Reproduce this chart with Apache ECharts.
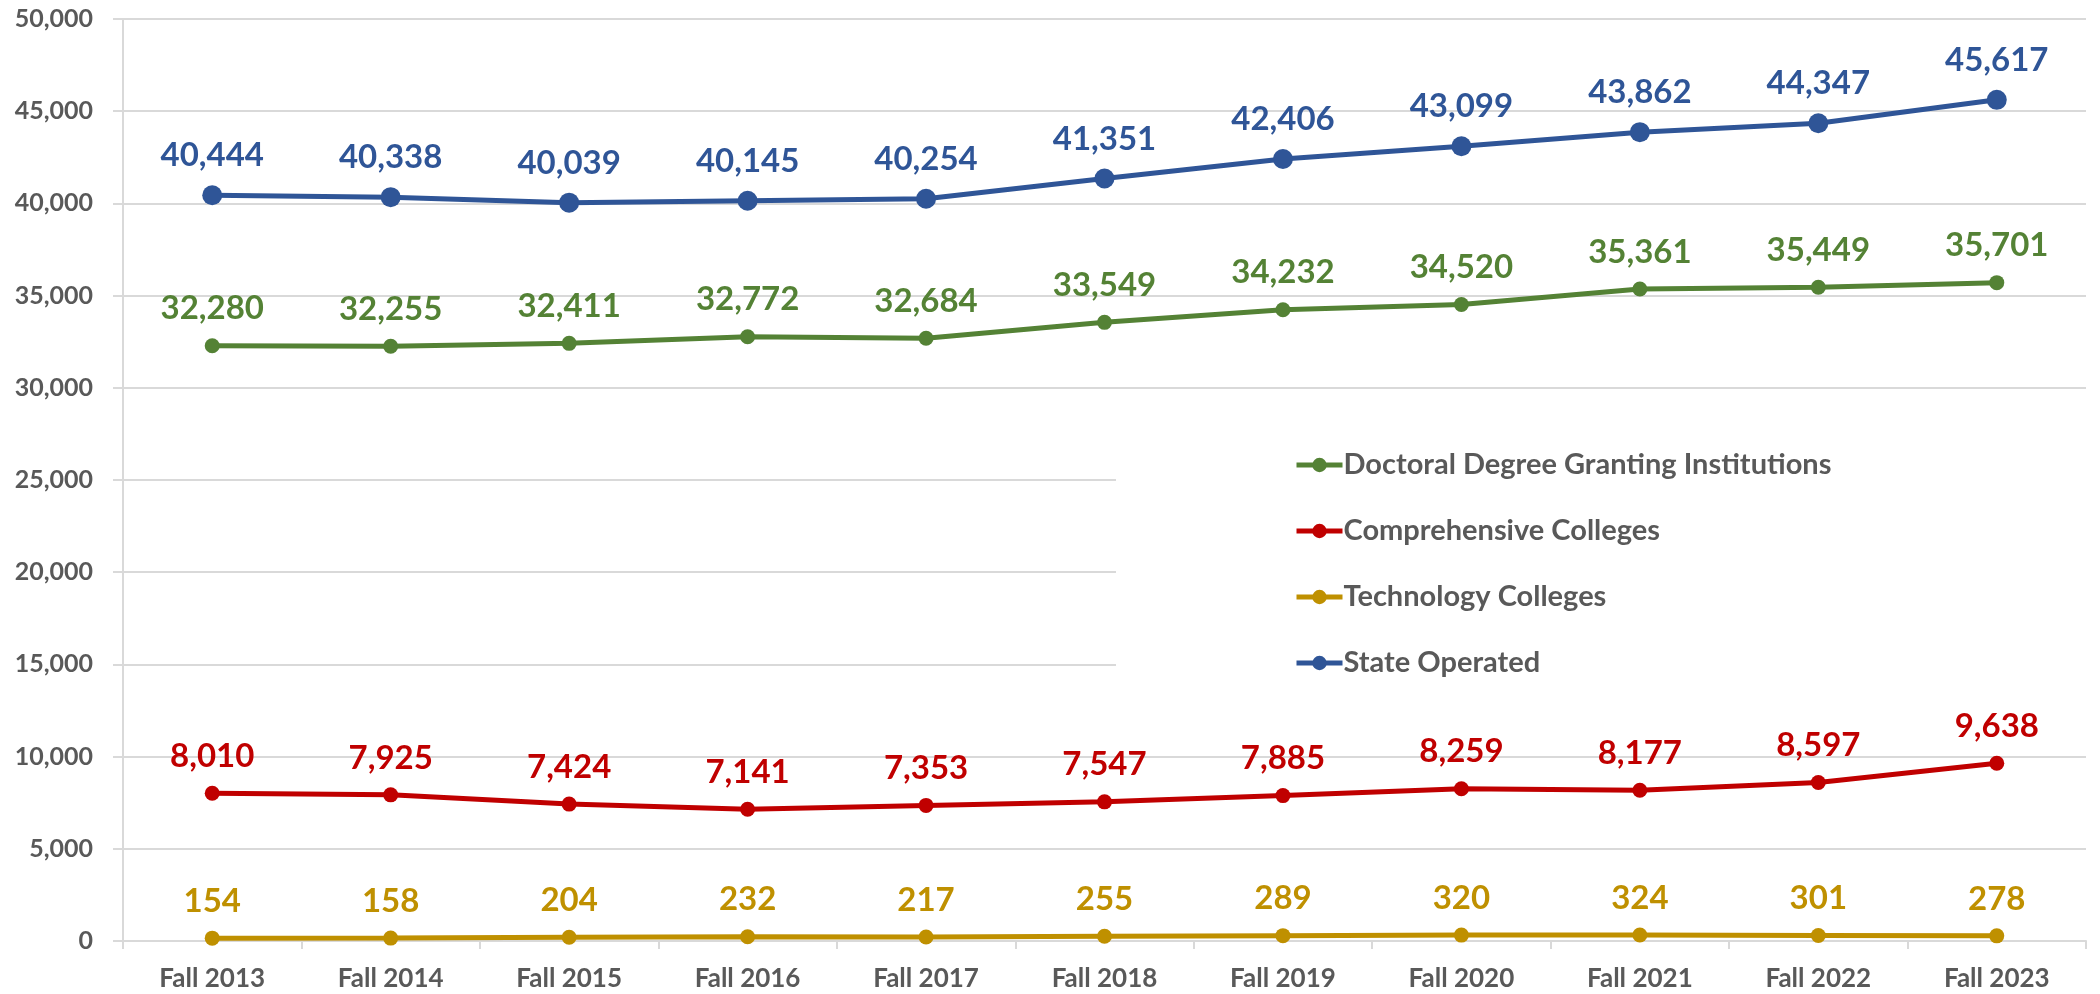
<!DOCTYPE html>
<html>
<head>
<meta charset="utf-8">
<script src="https://cdn.jsdelivr.net/npm/echarts@6/dist/echarts.min.js"></script>
<style>
  html, body { margin: 0; padding: 0; background: #fff; }
  #main { width: 2100px; height: 994px; }
</style>
</head>
<body>
<div id="main"></div>
<script>
// enrollment by sector, Fall 2013 - Fall 2023
var years = ['Fall 2013', 'Fall 2014', 'Fall 2015', 'Fall 2016', 'Fall 2017', 'Fall 2018',
    'Fall 2019', 'Fall 2020', 'Fall 2021', 'Fall 2022', 'Fall 2023'];
var doctoral = [32280, 32255, 32411, 32772, 32684, 33549, 34232, 34520, 35361, 35449, 35701];
var comprehensive = [8010, 7925, 7424, 7141, 7353, 7547, 7885, 8259, 8177, 8597, 9638];
var technology = [154, 158, 204, 232, 217, 255, 289, 320, 324, 301, 278];
var stateOperated = [40444, 40338, 40039, 40145, 40254, 41351, 42406, 43099, 43862, 44347, 45617];

var fontName = 'Lato, "Open Sans", sans-serif';

function makeSeries(name, data, color, width, size) {
    return {
        name: name,
        type: 'line',
        data: data,
        symbol: 'circle',
        symbolSize: size,
        color: color,
        lineStyle: { color: color, width: width },
        itemStyle: { color: color },
        label: {
            show: true,
            position: 'top',
            distance: 13,
            color: color,
            fontFamily: fontName,
            fontWeight: 'bold',
            fontSize: 33,
            formatter: function (p) {
                return p.value.toLocaleString('en-US');
            }
        },
        emphasis: { disabled: true },
        animation: false
    };
}

var chart = echarts.init(document.getElementById('main'));
var option = {
    backgroundColor: '#fff',
    grid: { left: 123, right: 14, top: 19, bottom: 53 },
    legend: {
        orient: 'vertical',
        left: 1116,
        top: 432,
        backgroundColor: '#fff',
        padding: [18, 268, 18, 178],
        itemWidth: 46,
        itemHeight: 18,
        itemGap: 36,
        data: ['Doctoral Degree Granting Institutions', 'Comprehensive Colleges',
            'Technology Colleges', 'State Operated'],
        lineStyle: { width: 5 },
        textStyle: {
            color: '#595959',
            fontFamily: fontName,
            fontWeight: 'bold',
            fontSize: 29,
            lineHeight: 30,
            padding: [0, 0, 0, -4]
        }
    },
    xAxis: {
        type: 'category',
        data: years,
        boundaryGap: true,
        axisLine: { lineStyle: { color: '#d9d9d9', width: 2 } },
        axisTick: { show: true, length: 8, lineStyle: { color: '#d9d9d9', width: 2 } },
        axisLabel: {
            color: '#595959',
            fontFamily: fontName,
            fontWeight: 'bold',
            fontSize: 26,
            margin: 25
        }
    },
    yAxis: {
        type: 'value',
        min: 0,
        max: 50000,
        interval: 5000,
        axisLine: { show: true, lineStyle: { color: '#d9d9d9', width: 2 } },
        axisTick: { show: true, length: 10, lineStyle: { color: '#d9d9d9', width: 2 } },
        splitLine: { lineStyle: { color: '#d9d9d9', width: 2 } },
        axisLabel: {
            color: '#595959',
            fontFamily: fontName,
            fontWeight: 'bold',
            fontSize: 25,
            margin: 30,
            formatter: function (v) {
                return v.toLocaleString('en-US');
            }
        }
    },
    series: [
        makeSeries('Doctoral Degree Granting Institutions', doctoral, '#548235', 5, 15),
        makeSeries('Comprehensive Colleges', comprehensive, '#C00000', 5, 15),
        makeSeries('Technology Colleges', technology, '#BF9000', 5, 15),
        makeSeries('State Operated', stateOperated, '#2F5597', 5, 20)
    ]
};
chart.setOption(option);
</script>
</body>
</html>
